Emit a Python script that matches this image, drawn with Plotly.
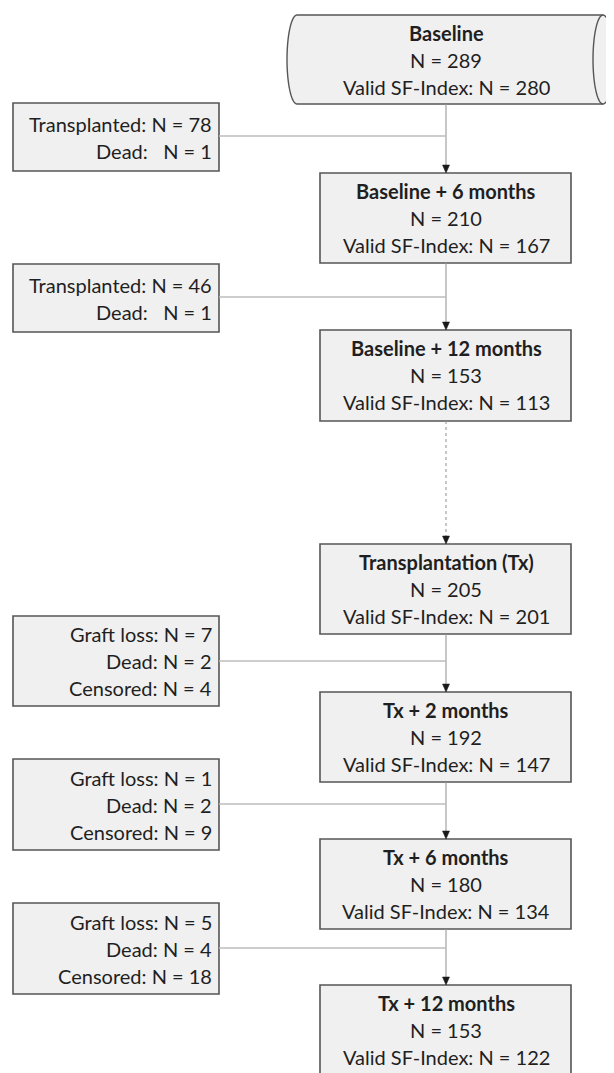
import numpy as np
import plotly.graph_objects as go

# ---------------- data ----------------
stage_titles = ["Baseline", "Baseline + 6 months", "Baseline + 12 months",
                "Transplantation (Tx)", "Tx + 2 months", "Tx + 6 months", "Tx + 12 months"]
stage_n = [289, 210, 153, 205, 192, 180, 153]
stage_valid = [280, 167, 113, 201, 147, 134, 122]

loss_labels = [["Transplanted: N = 78", "Dead:   N = 1"],
               ["Transplanted: N = 46", "Dead:   N = 1"],
               ["Graft loss: N = 7", "Dead: N = 2", "Censored: N = 4"],
               ["Graft loss: N = 1", "Dead: N = 2", "Censored: N = 9"],
               ["Graft loss: N = 5", "Dead: N = 4", "Censored: N = 18"]]

# ---------------- layout (pixel positions on the page) ----------------
PAGE_W, PAGE_H = 614, 1073
OFF = 8  # default body margin of the html page
CX = 446
main_x0, main_x1 = 320, 571
stage_y = [(15, 104), (173, 263), (330, 421), (544, 634), (692, 782), (839, 929), (985, 1090)]
side_x0, side_x1 = 13, 219
side_y = [(103, 171), (264, 332), (616, 706), (759, 850), (903, 994)]
side_link_y = [136, 297, 661, 804, 948]
dotted_link = [False, False, True, False, False, False]
LINE_GAP = 27

FONT = "Lato"
FS = 20
TXT = "#1f1f1f"
FILL = "#f0f0f0"
EDGE = "#555555"

fig = go.Figure()
shapes = []
annotations = []

# cylinder for baseline
y0, y1 = stage_y[0]
xl, xr = 297, 603
rx = 10
ry = (y1 - y0) / 2
ym = (y0 + y1) / 2
t = np.linspace(-np.pi / 2, np.pi / 2, 41)
pts = [(xl, y0), (xr, y0)]
for a in t:
    pts.append((xr + rx * np.cos(a), ym + ry * np.sin(a)))
pts.append((xl, y1))
for a in t[::-1]:
    pts.append((xl - rx * np.cos(a), ym + ry * np.sin(a)))
path = "M " + " L ".join(f"{px:.2f},{py:.2f}" for px, py in pts) + " Z"
shapes.append(dict(type="path", path=path, xref="x", yref="y", fillcolor=FILL,
                   line=dict(color=EDGE, width=1.4), layer="below"))
pts2 = [(xr - rx * np.cos(a), ym + ry * np.sin(a)) for a in t]
path2 = "M " + " L ".join(f"{px:.2f},{py:.2f}" for px, py in pts2)
shapes.append(dict(type="path", path=path2, xref="x", yref="y",
                   line=dict(color=EDGE, width=1.4)))

# main boxes
for i in range(1, len(stage_titles)):
    a, b = stage_y[i]
    shapes.append(dict(type="rect", x0=main_x0, x1=main_x1, y0=a, y1=b, xref="x", yref="y",
                       fillcolor=FILL, line=dict(color=EDGE, width=1.6), layer="below"))

# stage texts
for i, (title, n, v) in enumerate(zip(stage_titles, stage_n, stage_valid)):
    a, b = stage_y[i]
    top = a + 18
    lines = [f"<b>{title}</b>", f"N = {n}", f"Valid SF-Index: N = {v}"]
    for k, ln in enumerate(lines):
        annotations.append(dict(x=CX, y=top + LINE_GAP * k, xref="x", yref="y", text=ln,
                                showarrow=False, xanchor="center", yanchor="middle",
                                font=dict(family=FONT, size=FS, color=TXT)))

# vertical connectors with arrowheads
for i in range(len(stage_titles) - 1):
    ya = stage_y[i][1]
    yb = stage_y[i + 1][0]
    shapes.append(dict(type="line", x0=CX, x1=CX, y0=ya, y1=yb - 7, xref="x", yref="y",
                       line=dict(color="#999999", width=1.1,
                                 dash="dot" if dotted_link[i] else "solid")))
    shapes.append(dict(type="path", xref="x", yref="y",
                       path=f"M {CX-3.5},{yb-8} L {CX+3.5},{yb-8} L {CX},{yb} Z",
                       fillcolor="#1a1a1a", line=dict(color="#1a1a1a", width=0.5)))

# side boxes
for j, labels in enumerate(loss_labels):
    a, b = side_y[j]
    shapes.append(dict(type="rect", x0=side_x0, x1=side_x1, y0=a, y1=b, xref="x", yref="y",
                       fillcolor=FILL, line=dict(color=EDGE, width=1.6), layer="below"))
    ly = side_link_y[j]
    shapes.append(dict(type="line", x0=side_x1, x1=CX, y0=ly, y1=ly, xref="x", yref="y",
                       line=dict(color="#bdbdbd", width=1.4)))
    nl = len(labels)
    mid = (a + b) / 2
    for k, ln in enumerate(labels):
        yy = mid + (k - (nl - 1) / 2) * LINE_GAP
        annotations.append(dict(x=side_x1 - 5, y=yy, xref="x", yref="y", text=ln,
                                showarrow=False, xanchor="right", yanchor="middle",
                                font=dict(family=FONT, size=FS, color=TXT)))

fig.update_layout(
    width=PAGE_W - OFF, height=PAGE_H - OFF, margin=dict(l=0, r=0, t=0, b=0),
    paper_bgcolor="white", plot_bgcolor="white",
    xaxis=dict(range=[OFF, PAGE_W], visible=False, fixedrange=True),
    yaxis=dict(range=[PAGE_H, OFF], visible=False, fixedrange=True),
    shapes=shapes, annotations=annotations, showlegend=False,
)
fig.write_html("out.html")
